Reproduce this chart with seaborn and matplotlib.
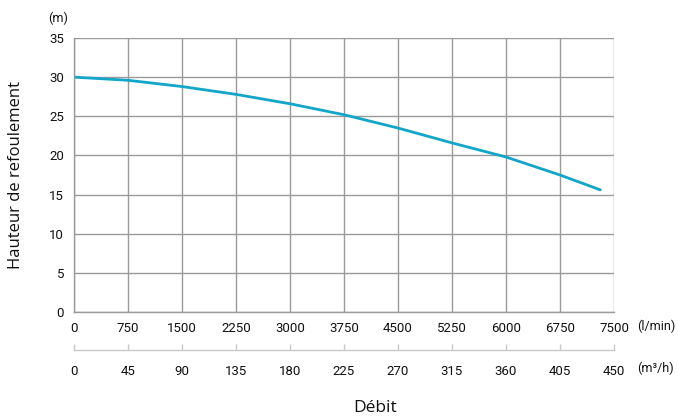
import matplotlib.pyplot as plt
import pandas as pd
import seaborn as sns

# Courbe de la pompe
debit_lmin = [0, 750, 1500, 2250, 3000, 3750, 4500, 5250, 6000, 6750, 7310]
hauteur_m = [30.0, 29.6, 28.8, 27.8, 26.6, 25.2, 23.5, 21.6, 19.8, 17.5, 15.6]

x_ticks = [0, 750, 1500, 2250, 3000, 3750, 4500, 5250, 6000, 6750, 7500]
m3h_ticks = [0, 45, 90, 135, 180, 225, 270, 315, 360, 405, 450]
y_ticks = [0, 5, 10, 15, 20, 25, 30, 35]

df = pd.DataFrame({'debit': debit_lmin, 'hauteur': hauteur_m})

sns.set_style('white')
plt.rcParams['font.family'] = ['Roboto', 'DejaVu Sans']

grid_c = '#9a9a9a'
line_c = '#12a6c8'
txt_c = '#111111'

fig = plt.figure(figsize=(6.78, 4.19), dpi=100)
ax = fig.add_axes([0.1091, 0.2554, 0.7965, 0.6539])

sns.lineplot(data=df, x='debit', y='hauteur', ax=ax, color=line_c, linewidth=2.0)

ax.set_xlim(0, 7500)
ax.set_ylim(0, 35)
ax.set_xticks(x_ticks)
ax.set_yticks(y_ticks)
ax.grid(True, color=grid_c, linewidth=1.0)
ax.set_axisbelow(True)
for s in ['top', 'right']:
    ax.spines[s].set_visible(False)
for s in ['left', 'bottom']:
    ax.spines[s].set_color(grid_c)
    ax.spines[s].set_linewidth(1.0)
ax.tick_params(axis='both', direction='out', length=4, width=1.0, color=grid_c,
               labelsize=9.5, labelcolor=txt_c, pad=3)
ax.set_xlabel('')
ax.set_ylabel('')

# second axe : m3/h
sec = ax.secondary_xaxis(-0.139, functions=(lambda x: x * 0.06, lambda x: x / 0.06))
sec.set_xticks(m3h_ticks)
sec.spines['bottom'].set_color('#c8c8c8')
sec.spines['bottom'].set_linewidth(1.0)
sec.tick_params(direction='in', length=4, width=1.0, color='#c8c8c8',
                labelsize=9.5, labelcolor=txt_c, pad=11)

fig.text(58 / 678, 1 - 18 / 419, '(m)', fontsize=9, ha='center', va='center', color=txt_c)
fig.text(637 / 678, 1 - 326 / 419, '(l/min)', fontsize=9, ha='left', va='center', color=txt_c)
fig.text(637 / 678, 1 - 368 / 419, '(m³/h)', fontsize=9, ha='left', va='center', color=txt_c)
fig.text(16 / 678, 1 - 175 / 419, 'Hauteur de refoulement', rotation=90, fontsize=12,
         ha='center', va='center', family=['Open Sans', 'DejaVu Sans'], color=txt_c)
fig.text(375 / 678, 1 - 408 / 419, 'Débit', fontsize=12.5, ha='center', va='center',
         family=['Open Sans', 'DejaVu Sans'], color=txt_c)

fig.savefig('out.png', dpi=100)
